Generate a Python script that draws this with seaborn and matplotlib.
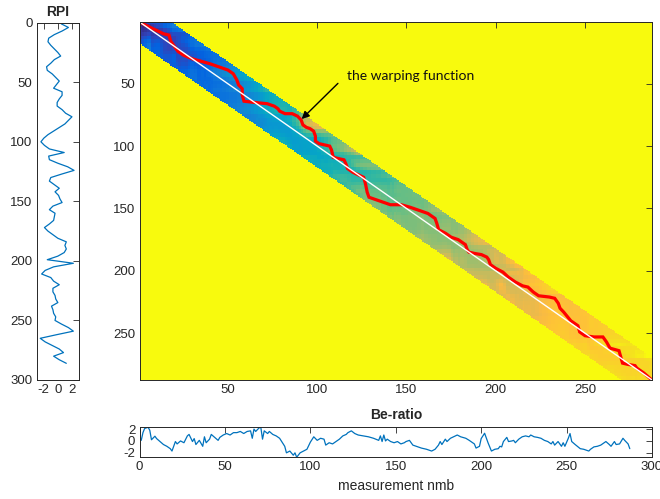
import numpy as np
import matplotlib
matplotlib.use('Agg')
import matplotlib.pyplot as plt
from matplotlib.colors import LinearSegmentedColormap
import seaborn as sns

# number of measurements in each record and DTW window half-width
N_MEAS = 287
WINDOW = 17

# RPI record (read every 3rd sample)
rpi_depth = np.arange(1, 287, 3)
rpi = [0.5, 1.5, 0.6, -0.5, -1.3, -1.4, -1.0, -0.5, 0.0, 0.4,
       -0.5, -1.0, -1.6, -1.5, -0.8, -0.3, 0.2, -0.2, -0.6, 0.6,
       0.6, 0.2, -0.1, -0.1, 0.6, 1.1, 2.0, 1.5, 1.0, 0.2,
       -0.6, -1.4, -2.0, -2.4, -1.9, -1.2, 0.9, -1.3, -1.2, 0.0,
       1.4, 2.3, 0.6, -1.0, -1.2, -0.5, 0.2, -0.4, 0.1, 0.3,
       0.6, -0.7, -1.2, -0.4, -0.5, -0.6, -1.2, -1.9, -1.4, -0.7,
       0.0, 1.2, 1.0, 1.2, 0.9, 0.0, -1.5, 2.2, -0.6, -1.8,
       -2.3, -1.0, -0.6, 0.2, -0.7, -0.7, -0.4, -0.3, 0.0, -0.9,
       -0.7, -0.6, -0.3, -0.4, 0.5, 1.5, 2.2, -0.2, -2.5, -1.8,
       -0.8, 0.2, 0.8, -0.6, 0.2, 1.2]

# Be-ratio record
be_pos = [1, 2, 3, 5, 6, 7, 9, 10, 12, 14, 16, 18, 19, 21, 22, 24, 26, 28, 29, 31,
          32, 33, 35, 37, 38, 39, 41, 42, 44, 46, 47, 49, 51, 53, 55, 57, 59, 61, 63, 65,
          66, 67, 68, 70, 71, 72, 73, 75, 76, 78, 80, 82, 83, 85, 86, 88, 90, 91, 92, 94,
          96, 98, 100, 102, 104, 106, 108, 109, 111, 113, 115, 117, 119, 121, 122, 124, 126, 128, 131, 134,
          137, 140, 141, 142, 143, 144, 145, 147, 149, 151, 153, 155, 156, 158, 160, 162, 165, 168, 171, 173,
          175, 176, 177, 179, 180, 182, 185, 186, 188, 191, 193, 196, 197, 199, 200, 202, 204, 206, 208, 210,
          211, 212, 213, 215, 216, 218, 219, 220, 222, 224, 226, 228, 229, 231, 233, 235, 237, 239, 241, 242,
          243, 245, 247, 248, 249, 251, 252, 253, 255, 258, 260, 263, 264, 266, 268, 270, 271, 273, 275, 276,
          278, 279, 281, 283, 284, 286, 287]
be_ratio = [0.1, 1.4, 2.1, 2.3, 1.8, 0.2, 0.8, 0.4, -0.1, -0.6, -0.9, -1.3, -1.7, -0.1, -0.5, 0.0, -0.3, 0.85, 1.1, -0.1,
            0.4, -0.6, 0.1, -0.9, 0.7, -0.3, 0.3, 1.1, 0.6, 0.1, 0.6, 1.0, 1.25, 1.0, 1.4, 1.4, 1.6, 1.25, 1.6, 1.7,
            0.45, 2.0, 1.6, 2.2, 2.3, 0.3, 1.7, 1.25, 1.6, 1.1, 0.85, 0.45, 0.0, -0.9, -2.0, -1.7, -2.4, -2.0, -2.75, -2.0,
            -1.7, -1.4, -0.2, 0.7, 0.1, 0.45, 0.3, -0.7, -0.3, -0.5, -0.1, 0.3, 0.85, 1.1, 1.4, 1.7, 1.25, 1.0, 0.85, 0.7,
            0.45, 0.1, 0.85, -0.1, 1.0, 0.0, 0.3, -0.1, -0.3, -0.1, -0.5, -0.3, -0.1, 0.1, -0.7, -0.9, -1.2, -1.4, -1.7, -1.4,
            -0.7, -0.1, -0.6, 0.3, -0.1, 0.45, 0.85, 1.0, 0.7, 0.45, 0.1, -0.5, -1.2, -0.9, 0.4, 1.3, -0.3, -1.7, -1.4, -1.3,
            -0.9, -1.0, -0.1, 0.6, -0.1, 0.0, 0.1, -0.3, 0.3, 0.7, 0.85, 0.7, 1.0, 0.7, 0.6, 0.45, 0.1, -0.1, -0.5, -0.1,
            -0.7, -0.1, -0.9, -0.3, -0.9, 0.45, 1.25, -0.1, -0.6, -1.3, -1.4, -1.7, -1.4, -1.0, -0.9, -0.7, -0.5, -0.1, -0.6, -0.9,
            -0.1, -0.6, -0.5, 0.45, 0.1, -0.5, -1.3]

# warping path: Be-ratio index (columns) vs RPI index (rows)
warp_be = [1, 14, 17, 18, 22, 25, 30, 35, 40, 44, 50, 53, 55, 56, 58, 58, 59, 65, 72, 76,
           78, 79, 82, 86, 89, 91, 92, 94, 96, 98, 99, 99, 101, 107, 108, 109, 112, 115, 116, 117,
           120, 126, 127, 128, 129, 133, 137, 141, 147, 152, 156, 160, 162, 166, 167, 168, 172, 175, 179, 183,
           184, 185, 188, 192, 195, 196, 197, 200, 204, 207, 211, 215, 218, 221, 224, 230, 233, 235, 236, 238,
           242, 246, 247, 250, 255, 260, 262, 264, 269, 270, 271, 274, 278, 279, 283, 287]
warp_rpi = [1, 10, 11, 16, 24, 27, 30, 32, 34, 36, 39, 42, 47, 51, 54, 59, 64, 65, 66, 68,
            70, 72, 74, 74, 76, 79, 83, 85, 86, 88, 92, 96, 98, 100, 103, 109, 110, 111, 114, 118,
            121, 125, 130, 137, 141, 143, 145, 147, 147, 149, 151, 153, 154, 158, 162, 167, 170, 173, 175, 179,
            183, 185, 186, 187, 189, 191, 195, 198, 201, 205, 209, 212, 213, 217, 220, 221, 222, 226, 230, 233,
            240, 244, 249, 252, 253, 253, 257, 262, 264, 269, 274, 275, 276, 278, 282, 287]

PARULA = [(0.2081, 0.1663, 0.5292), (0.1959, 0.2645, 0.7279), (0.0117, 0.3875, 0.8820),
          (0.0498, 0.4586, 0.8641), (0.0793, 0.5200, 0.8312), (0.0343, 0.5966, 0.8199),
          (0.0228, 0.6535, 0.7768), (0.0843, 0.6928, 0.7062), (0.2178, 0.7250, 0.6193),
          (0.3953, 0.7459, 0.5244), (0.5709, 0.7485, 0.4494), (0.7184, 0.7411, 0.3905),
          (0.8507, 0.7299, 0.3360), (0.9739, 0.7314, 0.2666), (0.9990, 0.7653, 0.2164),
          (0.9880, 0.8066, 0.1794), (0.9697, 0.8481, 0.1475), (0.9589, 0.8949, 0.1132),
          (0.9763, 0.9831, 0.0538)]
parula = LinearSegmentedColormap.from_list('parula', PARULA, N=256)
parula.set_bad(PARULA[-1])

LINE_BLUE = '#0072BD'
GREY = '#262626'


def accumulated_cost(a, pa, b, pb, window):
    a, pa, b, pb = map(np.asarray, (a, pa, b, pb))
    D = np.full((len(a), len(b)), np.inf)
    inside = np.abs(pa[:, None] - pb[None, :]) <= window
    for i in range(len(a)):
        for j in range(len(b)):
            if not inside[i, j]:
                continue
            c = abs(a[i] - b[j])
            if i == 0 and j == 0:
                D[i, j] = c
                continue
            best = np.inf
            if i > 0:
                best = min(best, D[i - 1, j])
            if j > 0:
                best = min(best, D[i, j - 1])
            if i > 0 and j > 0:
                best = min(best, D[i - 1, j - 1])
            D[i, j] = c + best
    return D


def cell_edges(pos, n):
    pos = np.asarray(pos, dtype=float)
    return np.concatenate([[0.5], (pos[:-1] + pos[1:]) / 2, [n + 0.5]])


def style_axes(ax):
    ax.tick_params(direction='in', length=4, width=0.6, colors=GREY,
                   labelsize=9.5, top=True, right=True, pad=3)
    for s in ax.spines.values():
        s.set_color(GREY)
        s.set_linewidth(0.7)
        s.set_visible(True)


sns.set_style('white')
plt.rcParams['font.family'] = ['Liberation Sans', 'DejaVu Sans']
plt.rcParams['axes.unicode_minus'] = False

fig = plt.figure(figsize=(6.6, 4.99), dpi=100)
ax_rpi = fig.add_axes([0.0556, 0.2385, 0.0641, 0.716])
ax_main = fig.add_axes([0.2114, 0.2385, 0.7765, 0.7174])
ax_be = fig.add_axes([0.2114, 0.0836, 0.7765, 0.0601])

# RPI panel
sns.lineplot(x=rpi, y=rpi_depth, orient='y', sort=False, ax=ax_rpi,
             color=LINE_BLUE, lw=0.9)
ax_rpi.set_xlim(-3, 3)
ax_rpi.set_ylim(300, 0)
ax_rpi.set_xticks([-2, 0, 2])
ax_rpi.set_yticks(range(0, 301, 50))
ax_rpi.set_xlabel('')
ax_rpi.set_ylabel('')
ax_rpi.set_title('RPI', fontsize=10, fontweight='bold', pad=5)
style_axes(ax_rpi)

# accumulated cost matrix (computed on the sampled records, shown per measurement)
D = accumulated_cost(rpi, rpi_depth, be_ratio, be_pos, WINDOW + 4)
M = np.where(np.isfinite(D), D, np.nan)
meas = np.arange(1, N_MEAS + 1)
ri = np.searchsorted(cell_edges(rpi_depth, N_MEAS), meas) - 1
ci = np.searchsorted(cell_edges(be_pos, N_MEAS), meas) - 1
F = M[np.ix_(ri, ci)]
F[np.abs(meas[:, None] - meas[None, :]) > WINDOW] = np.nan
inband = F[np.isfinite(F)]

ax_main.set_facecolor(PARULA[-1])
ax_main.imshow(F, cmap=parula, vmin=inband.min(), vmax=inband.max(), aspect='auto',
               interpolation='nearest', extent=[0.5, N_MEAS + 0.5, N_MEAS + 0.5, 0.5])
ax_main.plot(warp_be, warp_rpi, color='red', lw=2.3, solid_joinstyle='miter')
ax_main.plot([0.5, N_MEAS + 0.5], [0.5, N_MEAS + 0.5], color='white', lw=1)
ax_main.set_xlim(0.5, N_MEAS + 0.5)
ax_main.set_ylim(N_MEAS + 0.5, 0.5)
ax_main.set_xticks(range(50, 251, 50))
ax_main.set_yticks(range(50, 251, 50))
style_axes(ax_main)
ax_main.annotate('', xy=(91.3, 78.3), xytext=(111.6, 49.7),
                 arrowprops=dict(arrowstyle='-|>', color='black', lw=1, mutation_scale=11,
                                 shrinkA=0, shrinkB=0))
ax_main.text(116.7, 43.8, 'the warping function', ha='left', va='center',
             fontsize=10, color='#111111', family=['Lato', 'DejaVu Sans'])

# Be-ratio panel
sns.lineplot(x=be_pos, y=be_ratio, sort=False, ax=ax_be, color=LINE_BLUE, lw=0.9)
ax_be.set_xlim(0, 300)
ax_be.set_ylim(min(be_ratio), max(be_ratio))
ax_be.set_xticks(range(0, 301, 50))
ax_be.set_yticks([-2, 0, 2])
ax_be.set_ylabel('')
ax_be.set_xlabel('measurement nmb', fontsize=10, color=GREY, labelpad=4)
ax_be.set_title('Be-ratio', fontsize=10, fontweight='bold', pad=6)
style_axes(ax_be)

fig.savefig('out.png', dpi=100)
